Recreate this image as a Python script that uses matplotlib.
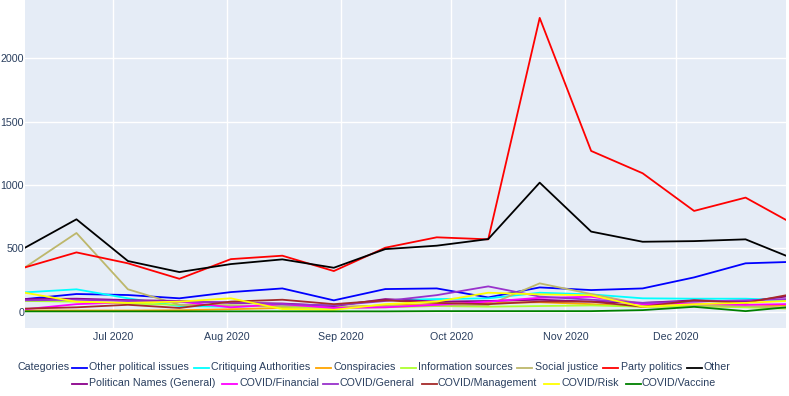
import numpy as np
import pandas as pd
import matplotlib
matplotlib.use('Agg')
import matplotlib.pyplot as plt
import matplotlib.dates as mdates
from matplotlib.lines import Line2D

plt.rcParams['font.family'] = ['Liberation Sans', 'DejaVu Sans']

# biweekly counts per category
dates = pd.to_datetime(['2020-06-07', '2020-06-21', '2020-07-05', '2020-07-19', '2020-08-02',
                        '2020-08-16', '2020-08-30', '2020-09-13', '2020-09-27', '2020-10-11',
                        '2020-10-25', '2020-11-08', '2020-11-22', '2020-12-06', '2020-12-20',
                        '2020-12-31'])

other_political = [100, 140, 132, 106, 155, 184, 90, 179, 184, 113, 192, 171, 184, 271, 382, 392]
critiquing = [153, 177, 106, 45, 40, 50, 50, 92, 100, 106, 150, 137, 106, 103, 103, 92]
conspiracies = [10, 10, 10, 12, 20, 30, 35, 50, 60, 70, 75, 60, 40, 45, 40, 50]
info_sources = [85, 80, 65, 55, 50, 40, 30, 35, 45, 40, 45, 50, 40, 45, 35, 25]
social_justice = [350, 621, 177, 55, 50, 45, 40, 45, 50, 53, 224, 140, 60, 50, 45, 30]
party_politics = [350, 468, 382, 260, 415, 442, 321, 505, 587, 571, 2317, 1268, 1092, 795, 900, 724]
other = [505, 729, 400, 313, 376, 413, 347, 494, 521, 573, 1018, 632, 552, 557, 571, 442]
politican_names = [100, 103, 92, 85, 70, 65, 45, 100, 80, 85, 95, 80, 70, 90, 80, 120]
covid_financial = [20, 60, 75, 80, 35, 60, 30, 35, 55, 80, 110, 118, 60, 65, 55, 60]
covid_general = [90, 95, 85, 80, 75, 60, 50, 85, 131, 200, 120, 95, 70, 80, 90, 100]
covid_management = [25, 35, 55, 30, 80, 95, 60, 90, 70, 60, 80, 80, 40, 90, 70, 130]
covid_risk = [150, 79, 70, 80, 106, 21, 15, 60, 80, 150, 137, 130, 40, 60, 70, 85]
covid_vaccine = [3, 3, 3, 3, 3, 3, 3, 3, 5, 5, 5, 5, 13, 39, 5, 35]

names = ['Other political issues', 'Critiquing Authorities', 'Conspiracies', 'Information sources',
         'Social justice', 'Party politics', 'Other', 'Politican Names (General)', 'COVID/Financial',
         'COVID/General', 'COVID/Management', 'COVID/Risk', 'COVID/Vaccine']
series = [other_political, critiquing, conspiracies, info_sources, social_justice, party_politics,
          other, politican_names, covid_financial, covid_general, covid_management, covid_risk,
          covid_vaccine]
colors = ['blue', 'cyan', 'orange', 'greenyellow', 'darkkhaki', 'red', 'black', 'darkmagenta',
          'magenta', 'darkorchid', 'brown', 'yellow', 'green']

W, H = 789, 396
fs = 7.7
fig = plt.figure(figsize=(W / 100, H / 100), dpi=100)
ax = fig.add_axes([25 / W, (H - 328) / H, (786 - 25) / W, 328 / H])
ax.set_facecolor('#E5ECF6')

for name, vals, c in zip(names, series, colors):
    ax.plot(dates, vals, color=c, lw=1.3, label=name)

ax.set_xlim(dates[0], dates[-1])
ax.set_ylim(-128, 2458)
ax.set_yticks([0, 500, 1000, 1500, 2000])
ax.xaxis.set_major_locator(mdates.MonthLocator(bymonth=[7, 8, 9, 10, 11, 12]))
ax.xaxis.set_major_formatter(mdates.DateFormatter('%b %Y'))
ax.grid(True, color='white', lw=1)
ax.set_axisbelow(True)
for s in ax.spines.values():
    s.set_visible(False)
ax.tick_params(length=0, labelsize=fs, labelcolor='#2a3f5f', pad=3)
ax.tick_params(axis='y', pad=0.7)

# plotly style legend, laid out by hand below the plot
tc = '#2a3f5f'
fig.text(18 / W, 1 - 367.5 / H, 'Categories', fontsize=fs, color=tc, va='center', ha='left')
rows = [
    (367.5, [(72, 89), (194, 211), (316, 333), (401, 418), (517, 535), (603, 621), (687, 704)]),
    (383.5, [(72, 89), (222, 239), (323, 340), (422, 438), (544, 561), (626, 642)]),
]
k = 0
for y, items in rows:
    for (lx, tx) in items:
        yy = 1 - y / H
        fig.add_artist(Line2D([lx / W, (lx + 15) / W], [yy, yy], color=colors[k], lw=1.3,
                              transform=fig.transFigure))
        fig.text(tx / W, yy, names[k], fontsize=fs, color=tc, va='center', ha='left')
        k += 1

fig.savefig('out.png', dpi=100)
